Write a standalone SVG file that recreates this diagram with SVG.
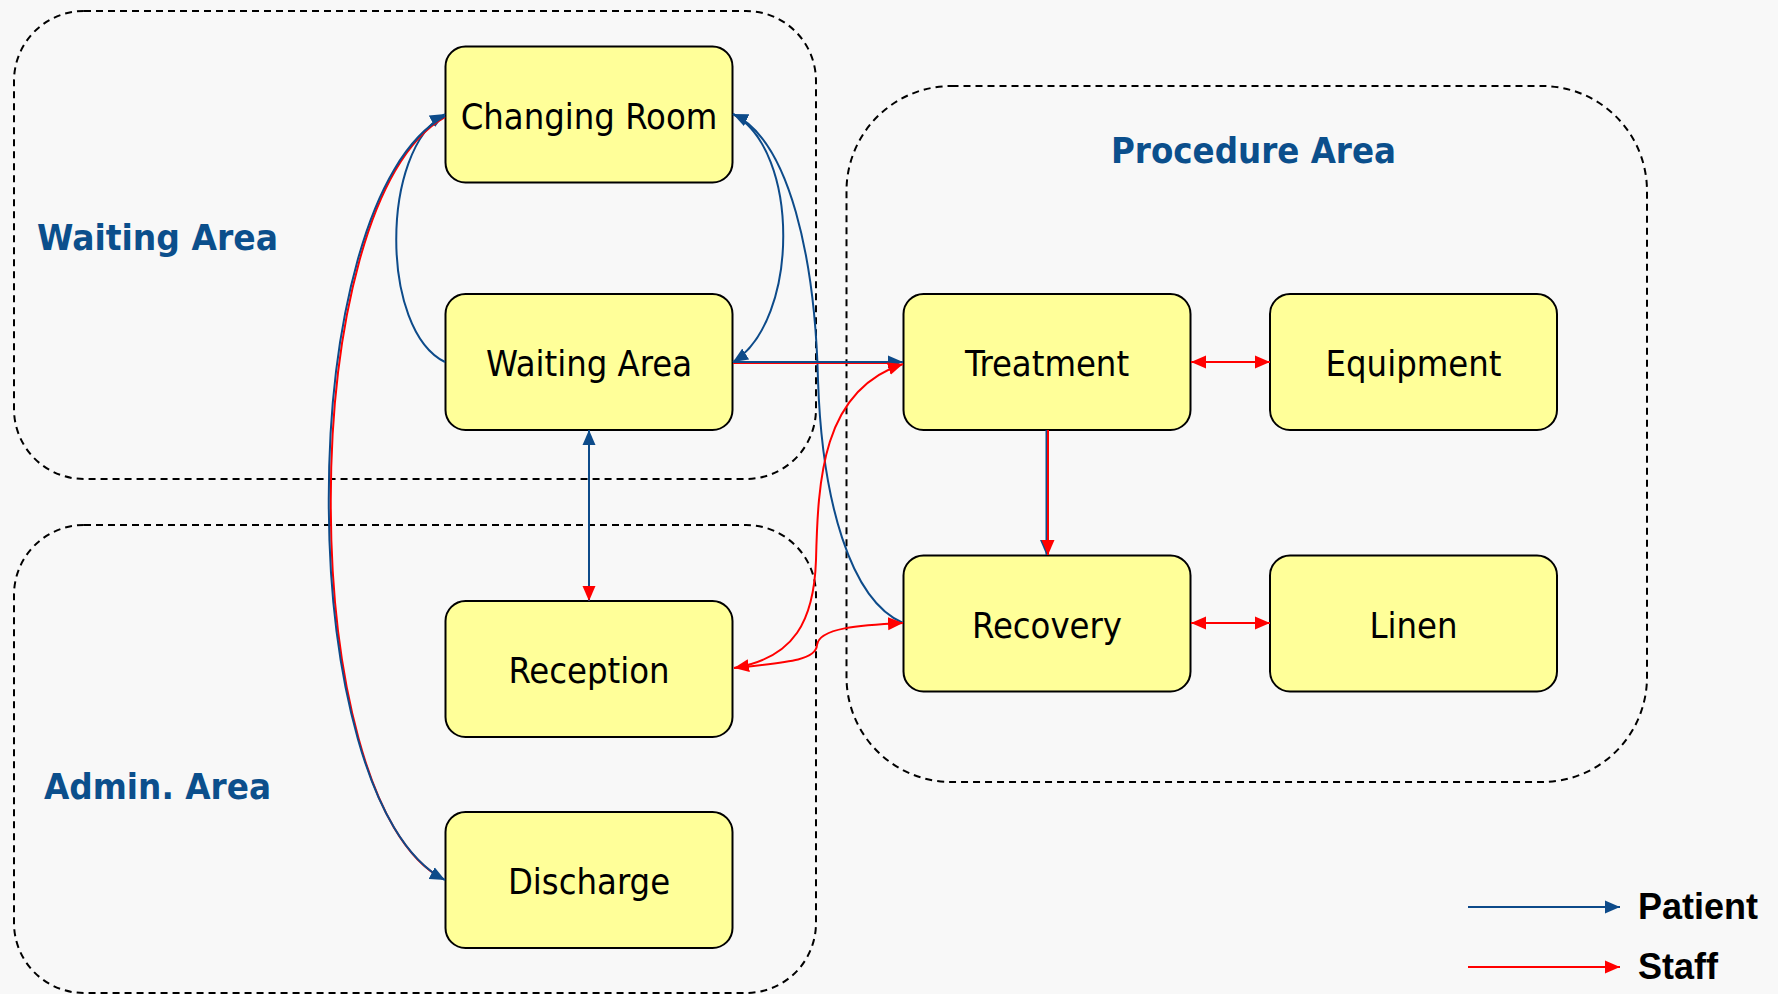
<svg xmlns="http://www.w3.org/2000/svg" width="1778" height="994" viewBox="0 0 1778 994">
<style>
.zone{fill:none;stroke:#000;stroke-width:2;stroke-dasharray:7 5}
.zl{font-family:"DejaVu Sans Condensed","DejaVu Sans",sans-serif;font-stretch:condensed;font-weight:bold;font-size:36px;fill:#0b4f8c}
.box{fill:#ffff99;stroke:#000;stroke-width:2}
.bt{font-family:"DejaVu Sans Condensed","DejaVu Sans",sans-serif;font-stretch:condensed;font-size:36px;fill:#000;text-anchor:middle}
.pt{fill:none;stroke:#0d4b8a;stroke-width:2}
.st{fill:none;stroke:#ff0000;stroke-width:2}
.lg{font-family:"Liberation Sans",Arial,sans-serif;font-weight:bold;font-size:36px;fill:#000}
</style>
<defs>
<marker id="ab" markerUnits="userSpaceOnUse" markerWidth="16" markerHeight="14" refX="15" refY="7" orient="auto-start-reverse"><path d="M0,0.5 L15,7 L0,13.5 z" fill="#0d4b8a"/></marker>
<marker id="ar" markerUnits="userSpaceOnUse" markerWidth="16" markerHeight="14" refX="15" refY="7" orient="auto-start-reverse"><path d="M0,0.5 L15,7 L0,13.5 z" fill="#ff0000"/></marker>
</defs>
<rect width="1778" height="994" fill="#f8f8f8"/>
<g id="zone-waiting">
<rect class="zone" x="14" y="11" width="802" height="468" rx="70" ry="70"/>
<text class="zl" x="37" y="250" textLength="241" lengthAdjust="spacingAndGlyphs">Waiting Area</text>
</g>
<g id="zone-admin">
<rect class="zone" x="14" y="525" width="802" height="468" rx="70" ry="70"/>
<text class="zl" x="44" y="799" textLength="227" lengthAdjust="spacingAndGlyphs">Admin. Area</text>
</g>
<g id="zone-procedure">
<rect class="zone" x="846.5" y="86" width="800.5" height="696" rx="105" ry="105"/>
<text class="zl" x="1111" y="163" textLength="285" lengthAdjust="spacingAndGlyphs">Procedure Area</text>
</g>
<g id="node-changing-room"><rect class="box" x="445.5" y="46.5" width="287" height="136" rx="20"/><text class="bt" x="589" y="128.5">Changing Room</text></g>
<g id="node-waiting-area"><rect class="box" x="445.5" y="294" width="287" height="136" rx="20"/><text class="bt" x="589" y="376">Waiting Area</text></g>
<g id="node-reception"><rect class="box" x="445.5" y="601" width="287" height="136" rx="20"/><text class="bt" x="589" y="683">Reception</text></g>
<g id="node-discharge"><rect class="box" x="445.5" y="812" width="287" height="136" rx="20"/><text class="bt" x="589" y="894">Discharge</text></g>
<g id="node-treatment"><rect class="box" x="903.5" y="294" width="287" height="136" rx="20"/><text class="bt" x="1047" y="376">Treatment</text></g>
<g id="node-equipment"><rect class="box" x="1270" y="294" width="287" height="136" rx="20"/><text class="bt" x="1413.5" y="376">Equipment</text></g>
<g id="node-recovery"><rect class="box" x="903.5" y="555.5" width="287" height="136" rx="20"/><text class="bt" x="1047" y="637.5">Recovery</text></g>
<g id="node-linen"><rect class="box" x="1270" y="555.5" width="287" height="136" rx="20"/><text class="bt" x="1413.5" y="637.5">Linen</text></g>
<g id="connectors">
<path class="pt" d="M445,362 C380,330 380,150 445,114" marker-end="url(#ab)"/>
<path class="pt" d="M733,114 C800,150 800,320 733,362" marker-end="url(#ab)"/>
<path class="pt" d="M903,623 C850,600 822,500 818,380 C815,260 790,140 733,114" marker-end="url(#ab)"/>
<path class="st" d="M733,363 L895,363" stroke-width="1"/>
<path class="pt" d="M733,362 L903,362" marker-end="url(#ab)"/>
<path class="pt" d="M1046.5,430 L1046.5,555" marker-end="url(#ab)"/>
<path class="st" d="M1048,430 L1048,555" marker-end="url(#ar)"/>
<path class="st" d="M1191,362 L1270,362" marker-start="url(#ar)" marker-end="url(#ar)"/>
<path class="st" d="M1191,623 L1270,623" marker-start="url(#ar)" marker-end="url(#ar)"/>
<path class="pt" d="M589,430 L589,601" marker-start="url(#ab)" marker-end="url(#ar)"/>
<path class="st" d="M734,668 C795,658 814,620 816,560 C818,480 822,390 903,364" marker-start="url(#ar)" marker-end="url(#ar)"/>
<path class="st" d="M734,668 C790,662 816,660 817,645 C819,628 860,625 903,623" marker-end="url(#ar)"/>
<path class="st" d="M445,117 C293,201 293,801 443,879"/>
<path class="pt" d="M445,116 C290,200 290,800 445,880" marker-end="url(#ab)"/>
</g>
<g id="legend">
<path class="pt" d="M1468,907 L1620,907" marker-end="url(#ab)"/>
<path class="st" d="M1468,967 L1620,967" marker-end="url(#ar)"/>
<text class="lg" x="1638" y="919">Patient</text>
<text class="lg" x="1638" y="979">Staff</text>
</g>
</svg>
